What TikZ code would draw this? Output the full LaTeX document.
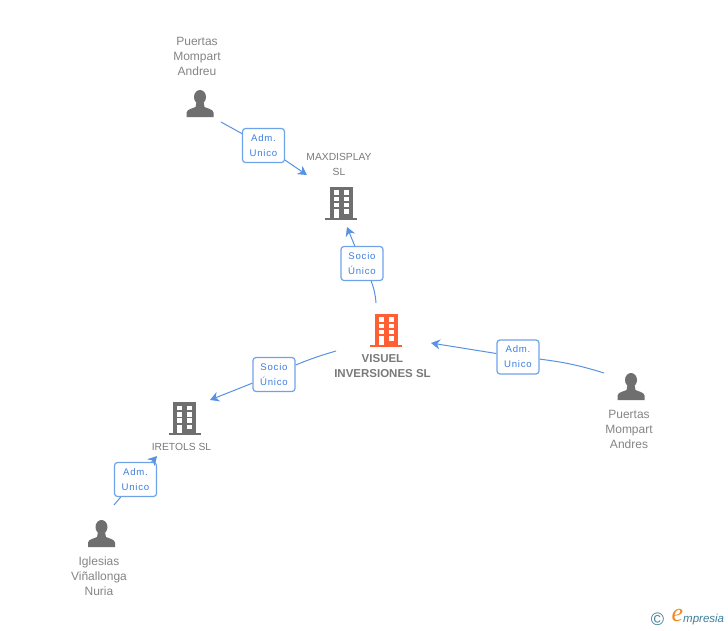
\documentclass[tikz,border=0pt]{standalone}
\usepackage{fontspec}
\setmainfont{Liberation Sans}
\newfontfamily\labfont[LetterSpace=8]{Liberation Sans}
\newfontfamily\logoserif{Liberation Serif}
\usetikzlibrary{arrows.meta}
\definecolor{gtext}{HTML}{858585}
\definecolor{ctext}{HTML}{7A7A7A}
\definecolor{gicon}{HTML}{6F6F6F}
\definecolor{oicon}{HTML}{FF5F33}
\definecolor{lblue}{HTML}{3C7FE0}
\definecolor{lborder}{HTML}{6EA3EA}
\definecolor{teal}{HTML}{3A7F9C}
\definecolor{logoor}{HTML}{F08A24}
\tikzset{
  x=1pt,y=-1pt,
  persontext/.style={text=gtext,align=center,inner sep=0pt,font=\fontsize{12}{15}\selectfont},
  comptext/.style={text=ctext,align=center,inner sep=0pt,font=\fontsize{10.3}{15}\selectfont},
  maintext/.style={text=ctext,align=center,inner sep=0pt,font=\fontsize{11.5}{14.5}\selectfont\bfseries},
  rolebox/.style={draw=lborder,line width=1.2pt,fill=white,rounded corners=3pt,minimum width=42pt,minimum height=34pt,inner sep=0pt,text=lblue,align=center,font=\fontsize{9.6}{15}\labfont},
  conn/.style={draw=lblue!85!white,line width=1pt},
  connarrow/.style={conn,-{Stealth[length=9pt,width=10pt]}},
  pics/buildingicon/.style={code={
    \fill[#1] (-16,-2) rectangle (16,0);
    \fill[#1] (-11.5,-33) rectangle (11.5,-2);
    \foreach \yy in {-29.5,-23,-16.7}{
      \fill[white] (-7.5,\yy) rectangle (-2.5,\yy+4.6);
      \fill[white] (2.5,\yy) rectangle (7.5,\yy+4.6);
    }
    \fill[white] (2.5,-10.5) rectangle (7.5,-5.9);
    \fill[white] (-7.5,-10.5) rectangle (-2.5,-2);
  }},
  pics/personicon/.style={code={
    \fill[gicon] (0,-20) circle[x radius=6,y radius=7];
    \fill[gicon] (-13.5,0) -- (-13.5,-4.5) .. controls (-13,-8) and (-7,-8.5) .. (-4.5,-10) -- (-3.5,-15) -- (3.5,-15) -- (4.5,-10) .. controls (7,-8.5) and (13,-8) .. (13.5,-4.5) -- (13.5,0) -- cycle;
  }}
}
\begin{document}
\begin{tikzpicture}
\useasboundingbox (0,0) rectangle (728,630);
\fill[white] (0,0) rectangle (728,630);

% icons
\pic at (200,117) {personicon};
\pic at (341,219.5) {buildingicon=gicon};
\pic at (386,346.5) {buildingicon=oicon};
\pic at (631,400) {personicon};
\pic at (184.5,435) {buildingicon=gicon};
\pic at (101.5,547) {personicon};

% entity texts
\node[persontext] (andreu) at (197,56) {Puertas\\Mompart\\Andreu};
\node[comptext] (maxd) at (339,164.5) {MAXDISPLAY\\SL};
\node[maintext] (visuel) at (382.5,366) {VISUEL\\INVERSIONES SL};
\node[persontext] (andres) at (629,429) {Puertas\\Mompart\\Andres};
\node[comptext] (iretols) at (181.5,447) {IRETOLS SL};
\node[persontext] (nuria) at (99,576) {Iglesias\\Viñallonga\\Nuria};

% connector ends
\coordinate (s1) at (221,122);
\coordinate (e1) at (307,175);
\coordinate (s2) at (376,303);
\coordinate (e2) at (347,227);
\coordinate (s3) at (604,373);
\coordinate (e3) at (431,343);
\coordinate (s4) at (336,351);
\coordinate (e4) at (210,400);
\coordinate (s5) at (114,505);
\coordinate (e5) at (157,456);

% role boxes
\node[rolebox] (r1) at (263.5,145.5) {Adm.\\Unico};
\node[rolebox] (r2) at (362,263.5) {Socio\\Único};
\node[rolebox] (r3) at (518,357) {Adm.\\Unico};
\node[rolebox] (r4) at (274,374.5) {Socio\\Único};
\node[rolebox] (r5) at (135.5,479.5) {Adm.\\Unico};

% connectors
\draw[conn] (s1) -- (r1);
\draw[connarrow] (r1) -- (e1);
\draw[conn] (s2) to[bend right=8] (r2);
\draw[connarrow] (r2) -- (e2);
\draw[conn] (s3) to[bend right=5] (r3);
\draw[connarrow] (r3) -- (e3);
\draw[conn] (s4) to[bend right=3] (r4);
\draw[connarrow] (r4) -- (e4);
\draw[conn] (s5) -- (r5);
\draw[connarrow] (r5) -- (e5);

% logo
\node[text=teal,inner sep=0pt,font=\fontsize{18}{18}\selectfont] (copy) at (657.5,619) {©};
\node[text=logoor,inner sep=0pt,font=\fontsize{26}{26}\logoserif\itshape] (logoe) at (677.5,615) {e};
\node[text=teal,inner sep=0pt,anchor=west,font=\fontsize{11.5}{12}\selectfont\itshape] (logot) at (683,619.5) {mpresia};
\end{tikzpicture}
\end{document}
